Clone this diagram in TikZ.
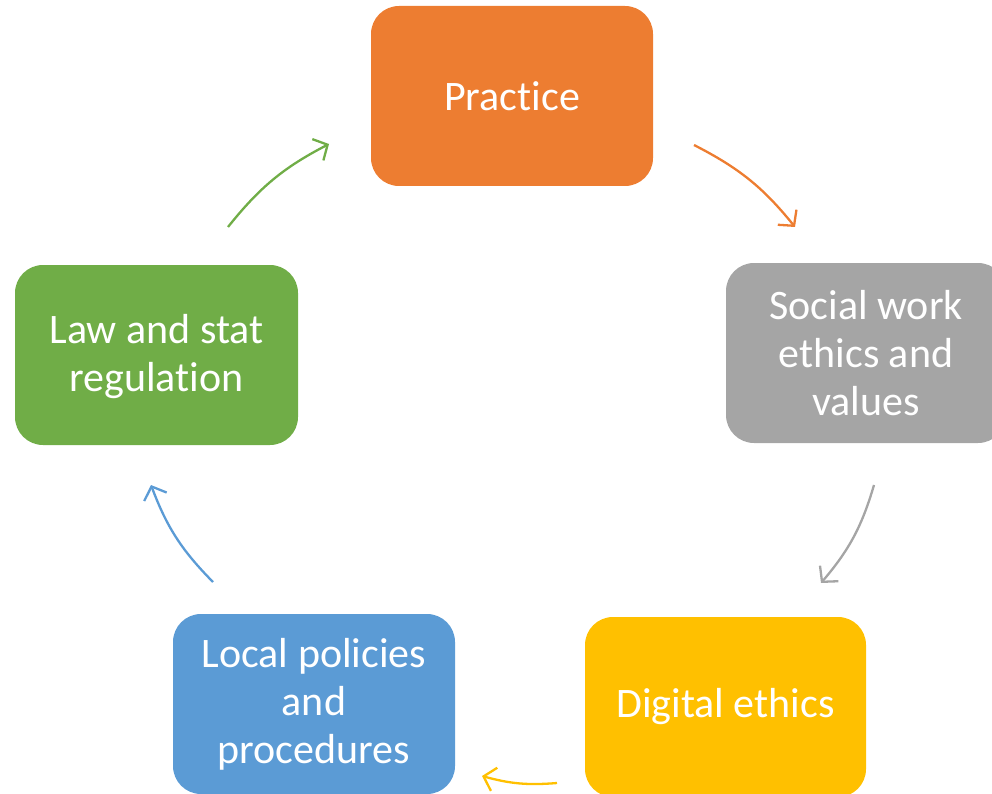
\documentclass[tikz,border=0pt]{standalone}
\usepackage{fontspec}
\setmainfont{Carlito}[RawFeature={-liga;-clig;-calt;-dlig}]
\usetikzlibrary{arrows.meta}
\definecolor{cOrange}{HTML}{ED7D31}
\definecolor{cGray}{HTML}{A5A5A5}
\definecolor{cYellow}{HTML}{FFC000}
\definecolor{cBlue}{HTML}{5B9BD5}
\definecolor{cGreen}{HTML}{70AD47}
\begin{document}
\begin{tikzpicture}[x=1pt,y=-1pt,
  box/.style={rounded corners=28pt, minimum width=282pt, minimum height=180pt,
    inner sep=0pt, text=white, align=center,
    font=\fontsize{42}{48}\selectfont},
  cyc/.style={line width=2.3pt, -{Straight Barb[length=11pt,width=24pt,line width=2.3pt]}}]
\useasboundingbox (0,0) rectangle (992,794);
\clip (0,0) rectangle (992,794);
\node[box, fill=cOrange] (prac) at (512,96) {Practice};
\node[box, fill=cGray, minimum width=280pt] (swe) at (866,353) {Social work\\ethics and\\values};
\node[box, fill=cYellow, minimum width=281pt] (dig) at (725.5,707) {Digital ethics};
\node[box, fill=cBlue] (loc) at (314,704) {Local policies\\and\\procedures};
\node[box, fill=cGreen, minimum width=283pt] (law) at (156.5,355) {};
\node[text=white, align=center, font=\fontsize{42}{48}\selectfont] (lawtxt) at (156.5,357) {Law and stat\\regulation};
\coordinate (o1) at (694,145); \coordinate (o2) at (795,227);
\coordinate (g1) at (874,485); \coordinate (g2) at (821,583);
\coordinate (y1) at (557,783); \coordinate (y2) at (482,776);
\coordinate (b1) at (213,582); \coordinate (b2) at (151,485);
\coordinate (n1) at (228,227); \coordinate (n2) at (329,144);
\draw[cyc, cOrange] (o1) to[bend left=12] (o2);
\draw[cyc, cGray] (g1) to[bend left=12] (g2);
\draw[cyc, cYellow] (y1) to[bend left=10] (y2);
\draw[cyc, cBlue] (b1) to[bend left=12] (b2);
\draw[cyc, cGreen] (n1) to[bend left=12] (n2);
\end{tikzpicture}
\end{document}
